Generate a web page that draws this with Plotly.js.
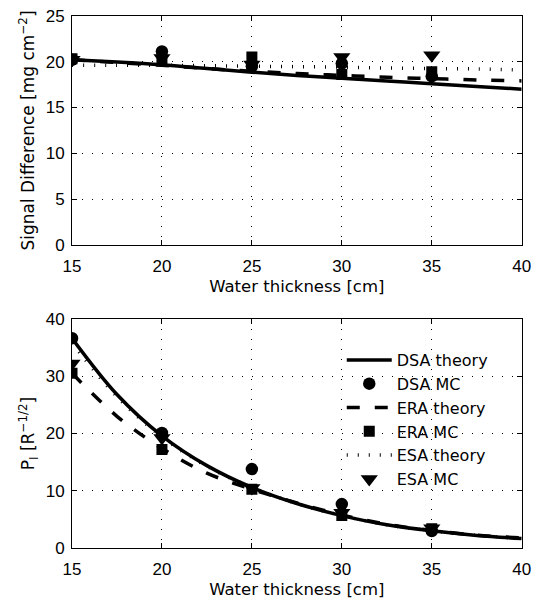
<!DOCTYPE html>
<html><head><meta charset="utf-8">
<script src="https://cdn.plot.ly/plotly-3.0.1.min.js"></script>
<style>html,body{margin:0;padding:0;background:#fff}#chart{width:534px;height:607px}</style>
</head><body><div id="chart"></div>
<script>
// ---- data ----
const mcX = [15, 20, 25, 30, 35];
const theoryX = [15, 17.5, 20, 22.5, 25, 27.5, 30, 32.5, 35, 37.5, 40];

// top panel: signal difference [mg cm^-2]
const sdDsaTheory = [20.2, 19.95, 19.65, 19.25, 18.85, 18.5, 18.2, 17.9, 17.6, 17.3, 17.0];
const sdEraTheory = [20.2, 19.9, 19.6, 19.25, 18.95, 18.7, 18.5, 18.3, 18.15, 18.0, 17.9];
const sdEsaTheory = [19.6, 19.6, 19.6, 19.55, 19.5, 19.45, 19.4, 19.3, 19.25, 19.2, 19.1];
const sdDsaMC = [20.2, 21.1, 19.5, 19.8, 18.4];
const sdEraMC = [20.3, 20.2, 20.5, 18.6, 18.9];
const sdEsaMC = [20.2, 20.4, 19.7, 20.5, 20.7];

// bottom panel: P_I [R^-1/2]
const piDsaTheory = [36.6, 26.8, 19.6, 14.4, 10.6, 7.8, 5.7, 4.1, 3.05, 2.25, 1.7];
const piEraTheory = [30.5, 23.0, 17.4, 13.1, 10.3, 7.9, 5.8, 4.2, 3.1, 2.3, 1.8];
const piEsaTheory = [35.8, 26.4, 19.4, 14.3, 10.6, 7.8, 5.7, 4.1, 3.05, 2.25, 1.7];
const piDsaMC = [36.6, 20.1, 13.8, 7.7, 3.0];
const piEraMC = [30.5, 17.2, 10.3, 5.7, 3.4];
const piEsaMC = [32.2, 19.2, 10.5, 6.2, 3.5];

const names = ['DSA theory', 'DSA MC', 'ERA theory', 'ERA MC', 'ESA theory', 'ESA MC'];
const xTicks = [15, 20, 25, 30, 35, 40];
const yTicksTop = [0, 5, 10, 15, 20, 25];
const yTicksBot = [0, 10, 20, 30, 40];

// ---- styles ----
const lineStyles = {
  'DSA theory': {color: '#000', width: 3.5, dash: 'solid'},
  'ERA theory': {color: '#000', width: 3.5, dash: '13px,15px'},
  'ESA theory': {color: '#000', width: 3.5, dash: '1px,10px'}
};
const markerStyles = {
  'DSA MC': {symbol: 'circle', size: 12.5, color: '#000'},
  'ERA MC': {symbol: 'square', size: 11, color: '#000'},
  'ESA MC': {symbol: 'triangle-down', size: 15, color: '#000'}
};

function theory(name, y, xa, ya, show) {
  return {x: theoryX, y: y, type: 'scatter', mode: 'lines', name: name,
    line: Object.assign({shape: 'spline'}, lineStyles[name]),
    xaxis: xa, yaxis: ya, showlegend: show, legendgroup: name};
}
function mc(name, y, xa, ya, show) {
  return {x: mcX, y: y, type: 'scatter', mode: 'markers', name: name,
    marker: Object.assign({line: {width: 0}}, markerStyles[name]),
    xaxis: xa, yaxis: ya, showlegend: show, legendgroup: name};
}

const traces = [
  theory('DSA theory', sdDsaTheory, 'x', 'y', false),
  mc('DSA MC', sdDsaMC, 'x', 'y', false),
  theory('ERA theory', sdEraTheory, 'x', 'y', false),
  mc('ERA MC', sdEraMC, 'x', 'y', false),
  theory('ESA theory', sdEsaTheory, 'x', 'y', false),
  mc('ESA MC', sdEsaMC, 'x', 'y', false),
  theory('DSA theory', piDsaTheory, 'x2', 'y2', true),
  mc('DSA MC', piDsaMC, 'x2', 'y2', true),
  theory('ERA theory', piEraTheory, 'x2', 'y2', true),
  mc('ERA MC', piEraMC, 'x2', 'y2', true),
  theory('ESA theory', piEsaTheory, 'x2', 'y2', true),
  mc('ESA MC', piEsaMC, 'x2', 'y2', true)
];

const W = 534, H = 607;
const tickFont = {family: 'Liberation Sans, Arial, sans-serif', size: 17, color: '#000'};
const xTitleFont = {family: 'DejaVu Sans, sans-serif', size: 16.5, color: '#000'};
const yTitleFont = {family: 'DejaVu Sans, sans-serif', size: 17, color: '#000'};
function axisBase(extra) {
  return Object.assign({
    showline: true, linecolor: '#000', linewidth: 1, mirror: 'ticks',
    ticks: 'inside', ticklen: 5, tickwidth: 1, tickcolor: '#000',
    showgrid: true, gridcolor: '#000', gridwidth: 1, griddash: '1px,9px',
    zeroline: false, tickfont: tickFont, fixedrange: true
  }, extra);
}
const xDom = [72 / W, 521.7 / W];

const layout = {
  width: W, height: H,
  margin: {l: 0, r: 0, t: 0, b: 0},
  paper_bgcolor: '#fff', plot_bgcolor: '#fff',
  showlegend: true,
  xaxis: axisBase({domain: xDom, range: [15, 40], tickvals: xTicks, anchor: 'y', ticklabelstandoff: 5,
    title: {text: 'Water thickness [cm]', font: xTitleFont, standoff: 5}}),
  yaxis: axisBase({domain: [1 - 245.3 / H, 1 - 15.7 / H], range: [0, 25], tickvals: yTicksTop, anchor: 'x', ticklabelstandoff: 3,
    title: {text: 'Signal Difference [mg cm<sup>−2</sup>]', font: yTitleFont, standoff: 6}}),
  xaxis2: axisBase({domain: xDom, range: [15, 40], tickvals: xTicks, anchor: 'y2', ticklabelstandoff: 5,
    title: {text: 'Water thickness [cm]', font: xTitleFont, standoff: 5}}),
  yaxis2: axisBase({domain: [1 - 548.3 / H, 1 - 318.7 / H], range: [0, 40], tickvals: yTicksBot, anchor: 'x2', ticklabelstandoff: 3,
    title: {text: 'P<sub>I</sub> [R<sup>−1/2</sup>]', font: yTitleFont, standoff: 6}}),
  legend: {x: 0.64, y: 1 - 343 / H, xanchor: 'left', yanchor: 'top',
    bgcolor: 'rgba(0,0,0,0)', borderwidth: 0, itemwidth: 45, tracegroupgap: 0,
    font: {family: 'DejaVu Sans, sans-serif', size: 16, color: '#000'}}
};

Plotly.newPlot('chart', traces, layout, {displayModeBar: false, staticPlot: true});
</script>
</body></html>
